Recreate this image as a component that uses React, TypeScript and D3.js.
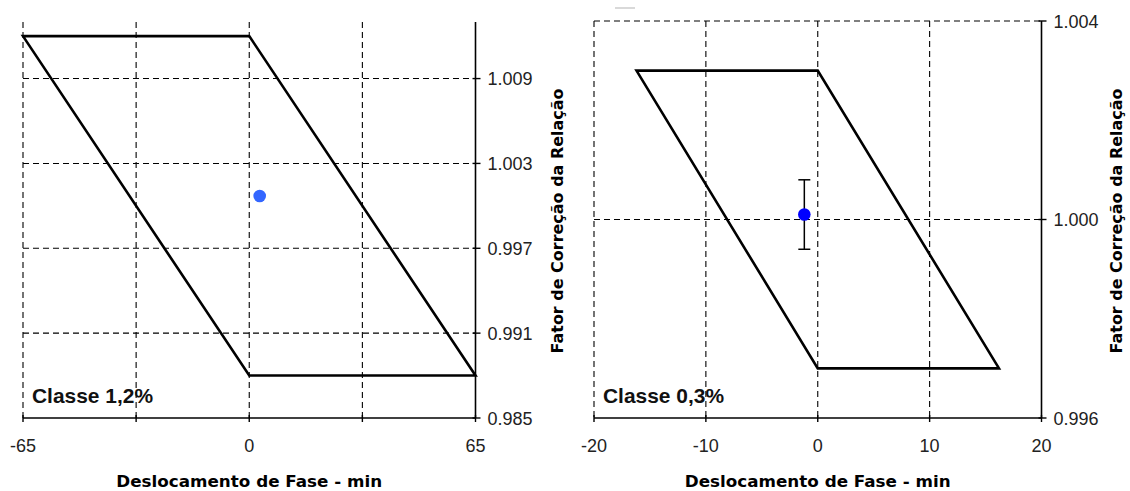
import React from "react";
import * as d3 from "d3";

// ---------- data ----------
const classLabels = ["Classe 1,2%", "Classe 0,3%"];
const xTitle = "Deslocamento de Fase - min";
const yTitle = "Fator de Correção da Relação";

// left panel (Classe 1,2%)
const leftXDomain = [-65, 65];
const leftYDomain = [0.985, 1.013];
const leftXGrid = [-65, -32.5, 0, 32.5];
const leftXTicks = [-65, -32.5, 0, 32.5, 65];
const leftXLabels = [-65, 0, 65];
const leftYTicks = [0.985, 0.991, 0.997, 1.003, 1.009];
const leftYGrid = [0.991, 0.997, 1.003, 1.009];
const leftPolyPhase = [-65, 0, 65, 0];
const leftPolyRatio = [1.012, 1.012, 0.988, 0.988];
const leftPointPhase = [3.0];
const leftPointRatio = [1.0007];

// right panel (Classe 0,3%)
const rightXDomain = [-20, 20];
const rightYDomain = [0.996, 1.004];
const rightXGrid = [-20, -10, 0, 10];
const rightXTicks = [-20, -10, 0, 10, 20];
const rightXLabels = [-20, -10, 0, 10, 20];
const rightYTicks = [0.996, 1.0, 1.004];
const rightYGrid = [1.0, 1.004];
const rightPolyPhase = [-16.2, 0, 16.2, 0];
const rightPolyRatio = [1.003, 1.003, 0.997, 0.997];
const rightPointPhase = [-1.2];
const rightPointRatio = [1.0001];
const rightErrLow = [0.9994];
const rightErrHigh = [1.0008];

type PanelProps = {
  x0: number; x1: number; yTop: number; yBot: number;
  xDomain: number[]; yDomain: number[];
  xGrid: number[]; xTicks: number[]; xLabels: number[];
  yTicks: number[]; yGrid: number[];
  polyPhase: number[]; polyRatio: number[];
  ptPhase: number[]; ptRatio: number[]; ptColor: string;
  errLow?: number[]; errHigh?: number[];
  label: string; yTitleX: number;
};

const TICK_FONT = "'Liberation Sans', Arial, sans-serif";
const TITLE_FONT = "'DejaVu Sans', Verdana, sans-serif";

function Panel(p: PanelProps) {
  const x = d3.scaleLinear().domain(p.xDomain).range([p.x0, p.x1]);
  const y = d3.scaleLinear().domain(p.yDomain).range([p.yBot, p.yTop]);
  const poly = p.polyPhase.map((v, i) => [x(v), y(p.polyRatio[i])] as [number, number]);
  const line = d3.line().curve(d3.curveLinearClosed);
  const dash = "6,4";
  const cx = (p.x0 + p.x1) / 2;
  const yMid = 221;
  return (
    <g>
      {p.xGrid.map((v, i) => (
        <line key={"xg" + i} x1={x(v)} x2={x(v)} y1={p.yTop} y2={p.yBot}
          stroke="#000" strokeWidth={1.1} strokeDasharray={dash} />
      ))}
      {p.yGrid.map((v, i) => (
        <line key={"yg" + i} x1={p.x0} x2={p.x1} y1={y(v)} y2={y(v)}
          stroke="#000" strokeWidth={1.1} strokeDasharray={dash} />
      ))}
      <path d={line(poly) || ""} fill="none" stroke="#000" strokeWidth={2.6} strokeLinejoin="miter" />
      {p.errLow && p.errHigh && p.ptPhase.map((v, i) => (
        <g key={"e" + i} stroke="#000" strokeWidth={1.5}>
          <line x1={x(v)} x2={x(v)} y1={y(p.errLow![i])} y2={y(p.errHigh![i])} />
          <line x1={x(v) - 6} x2={x(v) + 6} y1={y(p.errLow![i])} y2={y(p.errLow![i])} />
          <line x1={x(v) - 6} x2={x(v) + 6} y1={y(p.errHigh![i])} y2={y(p.errHigh![i])} />
        </g>
      ))}
      {p.ptPhase.map((v, i) => (
        <circle key={"p" + i} cx={x(v)} cy={y(p.ptRatio[i])} r={6.3} fill={p.ptColor} />
      ))}
      {/* axes */}
      <line x1={p.x0} x2={p.x1} y1={p.yBot} y2={p.yBot} stroke="#000" strokeWidth={1.6} />
      <line x1={p.x1} x2={p.x1} y1={p.yTop} y2={p.yBot} stroke="#000" strokeWidth={1.6} />
      {p.xTicks.map((v, i) => (
        <line key={"xt" + i} x1={x(v)} x2={x(v)} y1={p.yBot - 3} y2={p.yBot + 4}
          stroke="#000" strokeWidth={1.4} />
      ))}
      {p.yTicks.map((v, i) => (
        <line key={"yt" + i} x1={p.x1 - 3} x2={p.x1 + 5} y1={y(v)} y2={y(v)}
          stroke="#000" strokeWidth={1.4} />
      ))}
      {p.xLabels.map((v, i) => (
        <text key={"xl" + i} x={x(v)} y={452} textAnchor="middle"
          fontFamily={TICK_FONT} fontSize={18} fill="#222">{String(v)}</text>
      ))}
      {p.yTicks.map((v, i) => (
        <text key={"yl" + i} x={p.x1 + 12} y={y(v) + 6.5} textAnchor="start"
          fontFamily={TICK_FONT} fontSize={18} fill="#222">{v.toFixed(3)}</text>
      ))}
      <text x={p.x0 + 9} y={403} fontFamily={TICK_FONT} fontWeight="bold" fontSize={21}
        textLength={121} lengthAdjust="spacingAndGlyphs" fill="#111">{p.label}</text>
      <text x={cx} y={487} textAnchor="middle" fontFamily={TITLE_FONT} fontWeight="bold"
        fontSize={15} textLength={266} lengthAdjust="spacingAndGlyphs" fill="#000">{xTitle}</text>
      <text transform={`translate(${p.yTitleX},${yMid}) rotate(-90)`} textAnchor="middle"
        fontFamily={TITLE_FONT} fontWeight="bold" fontSize={15} textLength={265}
        lengthAdjust="spacingAndGlyphs" fill="#000">{yTitle}</text>
    </g>
  );
}

export default function App() {
  return (
    <svg width={1130} height={491} style={{ position: "absolute", left: 0, top: 0, background: "#fff" }}>
      <rect x={0} y={0} width={1130} height={491} fill="#fff" />
      <Panel x0={23} x1={475.5} yTop={22} yBot={418}
        xDomain={leftXDomain} yDomain={leftYDomain}
        xGrid={leftXGrid} xTicks={leftXTicks} xLabels={leftXLabels}
        yTicks={leftYTicks} yGrid={leftYGrid}
        polyPhase={leftPolyPhase} polyRatio={leftPolyRatio}
        ptPhase={leftPointPhase} ptRatio={leftPointRatio} ptColor="#3366ff"
        label={classLabels[0]} yTitleX={563} />
      <Panel x0={594} x1={1041.5} yTop={21} yBot={418}
        xDomain={rightXDomain} yDomain={rightYDomain}
        xGrid={rightXGrid} xTicks={rightXTicks} xLabels={rightXLabels}
        yTicks={rightYTicks} yGrid={rightYGrid}
        polyPhase={rightPolyPhase} polyRatio={rightPolyRatio}
        ptPhase={rightPointPhase} ptRatio={rightPointRatio} ptColor="#0000ff"
        errLow={rightErrLow} errHigh={rightErrHigh}
        label={classLabels[1]} yTitleX={1122} />
      <line x1={615} x2={635} y1={8} y2={8} stroke="#ccc" strokeWidth={1.5} />
    </svg>
  );
}
